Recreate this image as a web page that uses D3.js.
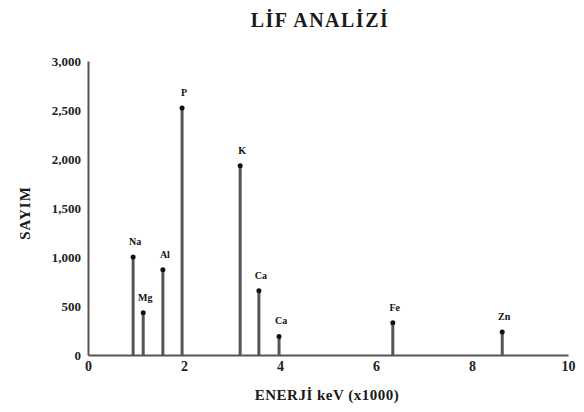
<!DOCTYPE html>
<html>
<head>
<meta charset="utf-8">
<script src="https://cdn.jsdelivr.net/npm/d3@7"></script>
<style>
	body { margin: 0; background: #fff; }
	text { font-family: "Liberation Serif", "DejaVu Serif", serif; }
</style>
</head>
<body>
<div id="chart"></div>
<script>
'use strict';

// peak positions (keV x1000), counts and element labels
const energies = [0.94, 1.15, 1.56, 1.96, 3.17, 3.56, 3.98, 6.35, 8.63];
const counts   = [1000, 430, 870, 2520, 1930, 655, 190, 330, 235];
const elements = ["Na", "Mg", "Al", "P", "K", "Ca", "Ca", "Fe", "Zn"];

const xTicks = [0, 2, 4, 6, 8, 10];
const yTicks = [0, 500, 1000, 1500, 2000, 2500, 3000];

const drawChart = () =>
{
	const W = 584, H = 412;
	const left = 88, right = 16, top = 61, bottom = 57;
	const width  = W - left - right;
	const height = H - top - bottom;

	const x = d3.scaleLinear().domain([0, 10]).range([0, width]);
	const y = d3.scaleLinear().domain([0, 3000]).range([height, 0]);

	const svg = d3.select("#chart")
		.append("svg")
		.attr("width", W)
		.attr("height", H);

	const g = svg.append("g")
		.attr("transform", "translate(" + left + "," + top + ")");

	svg.append("text")
		.attr("x", 320)
		.attr("y", 27)
		.attr("text-anchor", "middle")
		.style("font-size", "20px")
		.style("font-weight", "bold")
		.style("letter-spacing", "1.5px")
		.attr("fill", "#1a1a1a")
		.text("LİF ANALİZİ");

	// axes
	const yAxis = g.append("g")
		.call(d3.axisLeft(y).tickValues(yTicks).tickSize(0).tickPadding(7).tickFormat(d3.format(",")));
	yAxis.select(".domain").attr("stroke", "#555").attr("stroke-width", 2);
	yAxis.selectAll("text")
		.style("font-size", "13px")
		.style("font-weight", "bold")
		.attr("fill", "#222");

	const xAxis = g.append("g")
		.attr("transform", "translate(0," + height + ")")
		.call(d3.axisBottom(x).tickValues(xTicks).tickSize(0).tickPadding(6));
	xAxis.select(".domain").attr("stroke", "#555").attr("stroke-width", 2);
	xAxis.selectAll("text")
		.style("font-size", "14px")
		.style("font-weight", "bold")
		.attr("fill", "#222");

	svg.append("text")
		.attr("transform", "translate(30," + (top + 152) + ") rotate(-90)")
		.attr("text-anchor", "middle")
		.style("font-size", "15px")
		.style("font-weight", "bold")
		.style("letter-spacing", "1px")
		.attr("fill", "#1a1a1a")
		.text("SAYIM");

	svg.append("text")
		.attr("x", 327)
		.attr("y", 400)
		.attr("text-anchor", "middle")
		.style("font-size", "15px")
		.style("font-weight", "bold")
		.style("letter-spacing", "0.5px")
		.attr("fill", "#1a1a1a")
		.text("ENERJİ keV (x1000)");

	const peaks = energies.map((e, i) => ({ e: e, c: counts[i], el: elements[i] }));

	g.selectAll(".bar")
		.data(peaks)
		.enter()
			.append("line")
			.attr("class", "bar")
			.attr("x1", d => x(d.e))
			.attr("x2", d => x(d.e))
			.attr("y1", height)
			.attr("y2", d => y(d.c))
			.attr("stroke", "#555")
			.attr("stroke-width", 3);

	g.selectAll(".dot")
		.data(peaks)
		.enter()
			.append("circle")
			.attr("class", "dot")
			.attr("cx", d => x(d.e))
			.attr("cy", d => y(d.c))
			.attr("r", 2.5)
			.attr("fill", "#111");

	g.selectAll(".lbl")
		.data(peaks)
		.enter()
			.append("text")
			.attr("class", "lbl")
			.attr("x", d => x(d.e) + 2)
			.attr("y", d => y(d.c) - 12)
			.attr("text-anchor", "middle")
			.style("font-size", "10px")
			.style("font-weight", "bold")
			.attr("fill", "#111")
			.text(d => d.el);
};

document.addEventListener("DOMContentLoaded", drawChart, false);
</script>
</body>
</html>
